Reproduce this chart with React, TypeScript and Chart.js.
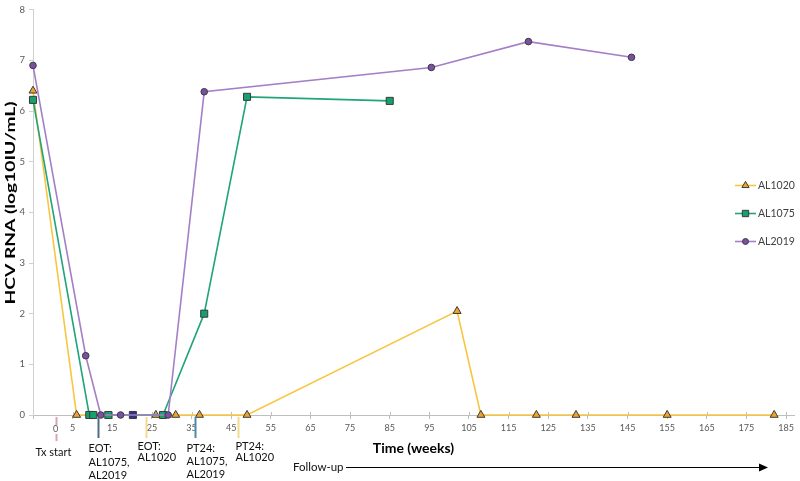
import React, { useEffect, useRef } from "react";
import { Chart, registerables } from "chart.js";

Chart.register(...registerables);

// ---- Data (weeks vs HCV RNA, log10 IU/mL) ----
const seriesNames = ["AL1020", "AL1075", "AL2019"];

const weeksAL1020 = [-5, 6, 26, 31, 37, 49, 102, 108, 122, 132, 155, 182];
const rnaAL1020 = [6.4, 0, 0, 0, 0, 0, 2.05, 0, 0, 0, 0, 0];

const weeksAL1075 = [-5, 9.2, 10.2, 14, 20.2, 27.8, 38.2, 49, 85];
const rnaAL1075 = [6.22, 0, 0, 0, 0, 0, 2.0, 6.28, 6.2];

const weeksAL2019 = [-5, 8.3, 12.1, 17.1, 29.1, 38.2, 95.5, 120, 146];
const rnaAL2019 = [6.9, 1.17, 0, 0, 0, 6.38, 6.86, 7.37, 7.06];

// AL1075 sample shown with a dark fill in the source figure
const darkMarkerWeekAL1075 = 20.2;

const xTickValues = [-5, 5, 15, 25, 35, 45, 55, 65, 75, 85, 95, 105, 115, 125, 135, 145, 155, 165, 175, 185];
const yTickValues = [0, 1, 2, 3, 4, 5, 6, 7, 8];

const xAxisTitle = "Time (weeks)";
const yAxisTitle = "HCV RNA (log10IU/mL)";
const followUpLabel = "Follow-up";

// Timeline annotations below the x axis
const annotationWeeks = [0.7, 11.3, 23.6, 35.9, 46.6];
const annotationTexts = [
  ["Tx start"],
  ["EOT:", "AL1075,", "AL2019"],
  ["EOT:", "AL1020"],
  ["PT24:", "AL1075,", "AL2019"],
  ["PT24:", "AL1020"],
];

const FONT = "Lato, 'Open Sans', sans-serif";

const styles = [
  { line: "#f8c53f", fill: "#f0a32c", point: "triangle", radius: 4.6 },
  { line: "#1fa47c", fill: "#16a06b", point: "rect", radius: 5 },
  { line: "#a47fc7", fill: "#7c4fa6", point: "circle", radius: 3.3 },
];
const annotationColors = ["#d9a3b6", "#4d6d85", "#f6d88e", "#4f89a6", "#f6d88e"];
const annotationTextDx = [-21, -10, -9, -9, -3];
const annotationTextY = [[452], [448.5, 462, 475], [446, 457.5], [448.5, 461, 474], [446.5, 457.5]];

function toPoints(xs: number[], ys: number[]) {
  return xs.map((x, i) => ({ x, y: ys[i] }));
}

function drawMarker(ctx: CanvasRenderingContext2D, style: string, x: number, y: number, r: number, fill: string) {
  ctx.beginPath();
  if (style === "circle") {
    ctx.arc(x, y, r, 0, Math.PI * 2);
  } else if (style === "rect") {
    const s = r * Math.SQRT1_2;
    ctx.rect(x - s, y - s, 2 * s, 2 * s);
  } else {
    let a = 0;
    ctx.moveTo(x + Math.sin(a) * r, y - Math.cos(a) * r);
    a += (Math.PI * 2) / 3;
    ctx.lineTo(x + Math.sin(a) * r, y - Math.cos(a) * r);
    a += (Math.PI * 2) / 3;
    ctx.lineTo(x + Math.sin(a) * r, y - Math.cos(a) * r);
    ctx.closePath();
  }
  ctx.fillStyle = fill;
  ctx.fill();
  ctx.lineWidth = 1;
  ctx.strokeStyle = "#3a3a3a";
  ctx.stroke();
}

const overlayPlugin = {
  id: "overlay",
  beforeDatasetsDraw(chart: any) {
    // small tick marks reaching above the x axis line
    const ctx: CanvasRenderingContext2D = chart.ctx;
    const xs = chart.scales.x;
    const base = chart.scales.y.bottom;
    ctx.save();
    ctx.strokeStyle = "#bfbfbf";
    ctx.lineWidth = 1;
    xTickValues.forEach((v) => {
      if (v === xTickValues[0]) return;
      const px = Math.round(xs.getPixelForValue(v)) + 0.5;
      ctx.beginPath();
      ctx.moveTo(px, base - 3);
      ctx.lineTo(px, base);
      ctx.stroke();
    });
    ctx.restore();
  },
  afterDraw(chart: any) {
    const ctx: CanvasRenderingContext2D = chart.ctx;
    const xs = chart.scales.x;
    const ys = chart.scales.y;
    const base = ys.bottom;
    ctx.save();

    // annotation lines + texts
    annotationWeeks.forEach((w, i) => {
      const px = Math.round(xs.getPixelForValue(w)) + 0.5;
      ctx.beginPath();
      ctx.moveTo(px, base + 2);
      ctx.lineTo(px, base + (i === 0 ? 26 : 23));
      ctx.strokeStyle = annotationColors[i];
      ctx.lineWidth = 2;
      ctx.stroke();
      ctx.fillStyle = "#111";
      ctx.font = `11px ${FONT}`;
      ctx.textAlign = "left";
      ctx.textBaseline = "middle";
      annotationTexts[i].forEach((t, j) => {
        ctx.fillText(t, px + annotationTextDx[i], annotationTextY[i][j]);
      });
    });

    // "0" label at treatment start
    ctx.font = `9px ${FONT}`;
    ctx.fillStyle = "#595959";
    ctx.textAlign = "center";
    ctx.textBaseline = "middle";
    const zx = xs.getPixelForValue(annotationWeeks[0]);
    ctx.clearRect(zx - 3, base + 10, 6, 9);
    ctx.fillText("0", zx, base + 14.5);

    // x axis title
    ctx.font = `bold 14px ${FONT}`;
    ctx.fillStyle = "#000";
    ctx.textAlign = "center";
    ctx.fillText(xAxisTitle, (xs.left + xs.right) / 2, 448);

    // follow-up arrow
    ctx.font = `11.5px ${FONT}`;
    ctx.textAlign = "left";
    ctx.fillStyle = "#111";
    ctx.fillText(followUpLabel, 293, 467);
    ctx.beginPath();
    ctx.moveTo(346, 467.5);
    ctx.lineTo(760, 467.5);
    ctx.strokeStyle = "#000";
    ctx.lineWidth = 1.2;
    ctx.stroke();
    ctx.beginPath();
    ctx.moveTo(768, 467.5);
    ctx.lineTo(759, 463.5);
    ctx.lineTo(759, 471.5);
    ctx.closePath();
    ctx.fillStyle = "#000";
    ctx.fill();

    // y axis title (stretched along its length as in the source)
    ctx.save();
    ctx.font = `bold 12.5px ${FONT}`;
    const w = ctx.measureText(yAxisTitle).width;
    ctx.translate(11, 203);
    ctx.rotate(-Math.PI / 2);
    ctx.scale(203 / w, 1);
    ctx.textAlign = "center";
    ctx.textBaseline = "middle";
    ctx.fillStyle = "#000";
    ctx.fillText(yAxisTitle, 0, 0);
    ctx.restore();

    // legend
    chart.data.datasets.forEach((ds: any, i: number) => {
      const ly = 185 + 28 * i;
      const st = styles[i];
      ctx.beginPath();
      ctx.moveTo(735, ly + 0.5);
      ctx.lineTo(756, ly + 0.5);
      ctx.strokeStyle = st.line;
      ctx.lineWidth = 1.6;
      ctx.stroke();
      drawMarker(ctx, st.point, 745.5, ly + 0.5, st.radius * 0.9, st.fill);
      ctx.font = `10.5px ${FONT}`;
      ctx.fillStyle = "#404040";
      ctx.textAlign = "left";
      ctx.textBaseline = "middle";
      ctx.fillText(ds.label, 758, ly + 1);
    });

    ctx.restore();
  },
};

export default function App() {
  const canvasRef = useRef<HTMLCanvasElement | null>(null);

  useEffect(() => {
    document.body.style.margin = "0";
    const canvas = canvasRef.current;
    if (!canvas) return;
    const seriesX = [weeksAL1020, weeksAL1075, weeksAL2019];
    const seriesY = [rnaAL1020, rnaAL1075, rnaAL2019];
    const drawOrder = [2, 1, 0];

    const datasets = seriesNames.map((name, i) => ({
      label: name,
      data: toPoints(seriesX[i], seriesY[i]),
      borderColor: styles[i].line,
      borderWidth: 1.6,
      pointStyle: styles[i].point,
      pointRadius: styles[i].radius,
      pointHoverRadius: styles[i].radius,
      pointBorderWidth: 1,
      pointBorderColor: "#3a3a3a",
      pointBackgroundColor:
        i === 1
          ? (c: any) => (c.raw && c.raw.x === darkMarkerWeekAL1075 ? "#2f2f86" : styles[i].fill)
          : styles[i].fill,
      tension: 0,
      fill: false,
      clip: false as any,
      order: drawOrder[i],
    }));

    const chart = new Chart(canvas, {
      type: "line",
      data: { datasets },
      options: {
        animation: false,
        responsive: true,
        maintainAspectRatio: false,
        layout: { padding: { top: 7, right: 2, left: 0, bottom: 0 } },
        plugins: { legend: { display: false }, tooltip: { enabled: false } },
        scales: {
          x: {
            type: "linear",
            min: -5,
            max: 187,
            afterBuildTicks: (s: any) => {
              s.ticks = xTickValues.map((v) => ({ value: v }));
            },
            afterFit: (s: any) => {
              s.height = 66;
            },
            ticks: {
              autoSkip: false,
              maxRotation: 0,
              padding: 4,
              color: "#595959",
              font: { family: FONT, size: 9 },
              callback: (v: any) => (v === -5 ? "" : String(v)),
            },
            grid: { drawOnChartArea: false, drawTicks: true, tickLength: 4, color: "#bfbfbf" },
            border: { display: true, color: "#bfbfbf", width: 1 },
          },
          y: {
            min: 0,
            max: 8,
            afterBuildTicks: (s: any) => {
              s.ticks = yTickValues.map((v) => ({ value: v }));
            },
            afterFit: (s: any) => {
              s.width = 33;
            },
            ticks: {
              padding: 4,
              color: "#595959",
              font: { family: FONT, size: 9.5 },
            },
            grid: { drawOnChartArea: false, drawTicks: true, tickLength: 4, color: "#d0d0d0" },
            border: { display: true, color: "#d0d0d0", width: 1 },
          },
        },
      },
      plugins: [overlayPlugin],
    });
    return () => chart.destroy();
  }, []);

  return (
    <div style={{ position: "absolute", left: 0, top: 0, width: 800, height: 481, background: "#fff" }}>
      <canvas ref={canvasRef} />
    </div>
  );
}
